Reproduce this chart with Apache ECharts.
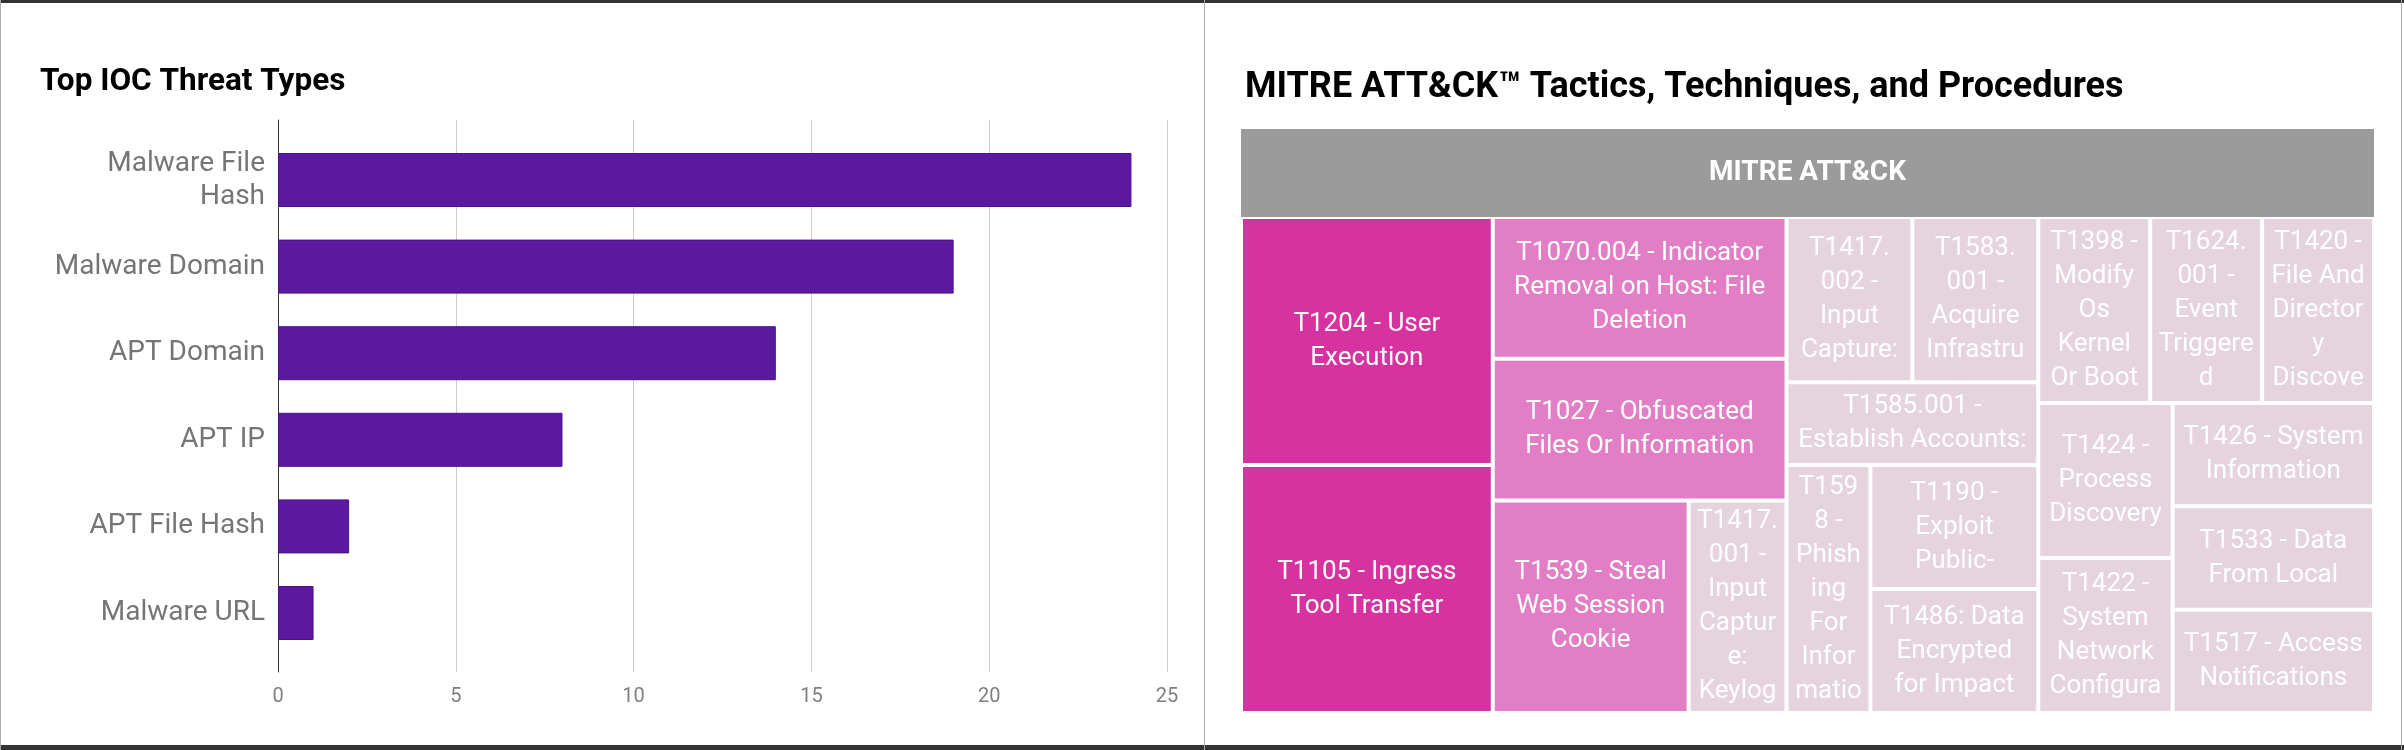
<!DOCTYPE html>
<html>
<head>
<meta charset="utf-8">
<script src="https://cdn.jsdelivr.net/npm/echarts@6/dist/echarts.min.js"></script>
<style>
  html, body { margin: 0; padding: 0; background: #fff; }
  #chart { position: absolute; left: 0; top: 0; width: 2404px; height: 750px; }
  .frame { position: absolute; z-index: 10; }
</style>
</head>
<body>
<div id="chart"></div>
<div class="frame" style="left:0;top:0;width:2404px;height:3px;background:#333;"></div>
<div class="frame" style="left:0;top:745px;width:2404px;height:5px;background:#333;"></div>
<div class="frame" style="left:0;top:0;width:1px;height:750px;background:#aaa;"></div>
<div class="frame" style="left:1204px;top:0;width:1px;height:750px;background:#aaa;"></div>
<div class="frame" style="left:2401px;top:0;width:1px;height:750px;background:#aaa;"></div>
<script>
// ---------------- data ----------------
const barTitle = 'Top IOC Threat Types';
const barCategories = ['Malware File Hash', 'Malware Domain', 'APT Domain', 'APT IP', 'APT File Hash', 'Malware URL'];
const barValues = [24, 19, 14, 8, 2, 1];
const barAxisMin = 0;
const barAxisMax = 25;
const barAxisStep = 5;

const treemapTitle = 'MITRE ATT&CK\u2122 Tactics, Techniques, and Procedures';
const treemapRootName = 'MITRE ATT&CK';
const ttpNames = [
  'T1204 - User Execution',
  'T1105 - Ingress Tool Transfer',
  'T1070.004 - Indicator Removal on Host: File Deletion',
  'T1027 - Obfuscated Files Or Information',
  'T1539 - Steal Web Session Cookie',
  'T1417.001 - Input Capture: Keylogging',
  'T1417.002 - Input Capture: GUI Input Capture',
  'T1583.001 - Acquire Infrastructure: Domains',
  'T1585.001 - Establish Accounts: Social Media Accounts',
  'T1598 - Phishing For Information',
  'T1190 - Exploit Public-Facing Application',
  'T1486: Data Encrypted for Impact',
  'T1398 - Modify Os Kernel Or Boot Partition',
  'T1624.001 - Event Triggered Execution: Broadcast Receivers',
  'T1420 - File And Directory Discovery',
  'T1424 - Process Discovery',
  'T1422 - System Network Configuration Discovery',
  'T1426 - System Information Discovery',
  'T1533 - Data From Local System',
  'T1517 - Access Notifications'
];
const ttpCounts = [3, 3, 2, 2, 2, 1, 1, 1, 1, 1, 1, 1, 1, 1, 1, 1, 1, 1, 1, 1];
// grouping of technique indices (tree structure used by the treemap)
const ttpGroups = [
  [0, 1],
  [2, [3, [4, 5]]],
  [[6, 7], 8, [9, [10, 11]]],
  [[12, 13, 14], [[15, 16], [17, 18, 19]]]
];

// ---------------- styles ----------------
const countColors = { 1: '#e5d4de', 2: '#e27ec5', 3: '#d632a0' };
const FONT = 'Roboto';
const CAT_FONT_SIZE = 28;
const CAT_LABEL_MAX = 215;
const LEAF_FONT_SIZE = 26;
const LEAF_PAD = 6;
const LEAF_BORDER = 2;

// ---------------- text wrapping helpers ----------------
const measureCtx = document.createElement('canvas').getContext('2d');
function textW(s) { return measureCtx.measureText(s).width; }

function wrapWords(text, font, maxWidth) {
  measureCtx.font = font;
  const words = text.split(' ');
  const lines = [];
  let line = '';
  for (const w of words) {
    const test = line ? line + ' ' + w : w;
    if (line && textW(test) > maxWidth) { lines.push(line); line = w; }
    else { line = test; }
  }
  if (line) lines.push(line);
  return lines.join('\n');
}

function splitLongWord(word, maxW) {
  const parts = word.split(/(?<=[.\-])/);
  const out = [];
  for (const p of parts) {
    if (textW(p) <= maxW) { out.push(p); continue; }
    let cur = '';
    for (const ch of p) {
      if (cur && textW(cur + ch) > maxW) { out.push(cur); cur = ch; }
      else { cur += ch; }
    }
    if (cur) out.push(cur);
  }
  return out;
}

function wrapCellLabel(text, font, maxW) {
  measureCtx.font = font;
  const words = text.split(' ');
  const lines = [];
  let line = '';
  for (const w of words) {
    const pieces = textW(w) > maxW ? splitLongWord(w, maxW) : [w];
    pieces.forEach(function (p, i) {
      const joiner = (i === 0 && line) ? ' ' : '';
      const test = line + joiner + p;
      if (line && textW(test) > maxW) { lines.push(line); line = p; }
      else { line = test; }
    });
  }
  if (line) lines.push(line);
  return lines.join('\n');
}

function buildNode(g) {
  if (Array.isArray(g)) {
    return {
      name: '',
      children: g.map(buildNode),
      itemStyle: { borderWidth: 0, gapWidth: 0, borderColor: '#fff' }
    };
  }
  return {
    name: ttpNames[g],
    value: ttpCounts[g],
    itemStyle: { color: countColors[ttpCounts[g]] }
  };
}

const chart = echarts.init(document.getElementById('chart'), null, { renderer: 'canvas' });

const option = {
  animation: false,
  backgroundColor: '#fff',
  title: [
    {
      text: barTitle, left: 40, top: 66, padding: 0,
      textStyle: { fontFamily: FONT, fontSize: 31.5, fontWeight: 'bold', color: '#000' }
    },
    {
      text: treemapTitle, left: 1245, top: 70, padding: 0,
      textStyle: { fontFamily: FONT, fontSize: 36, fontWeight: 'bold', color: '#000' }
    }
  ],
  grid: [
    { left: 278, right: 2404 - 1167, top: 120, bottom: 750 - 672, containLabel: false, outerBoundsMode: 'none' },
    { left: 278, right: 2404 - 1167, top: 136.7, bottom: 750 - 656.3, containLabel: false, outerBoundsMode: 'none' }
  ],
  xAxis: [
    {
      gridIndex: 0, type: 'value', min: barAxisMin, max: barAxisMax, interval: barAxisStep,
      axisLine: { show: false }, axisTick: { show: false },
      splitLine: { show: true, lineStyle: { color: '#cccccc', width: 1 } },
      axisLabel: { fontFamily: FONT, fontSize: 20, color: '#808080', margin: 15 }
    },
    {
      gridIndex: 1, type: 'value', min: barAxisMin, max: barAxisMax, show: false
    }
  ],
  yAxis: [
    {
      gridIndex: 0, type: 'value', min: 0, max: 1,
      axisLine: { show: true, lineStyle: { color: '#333', width: 1 } },
      axisTick: { show: false }, axisLabel: { show: false }, splitLine: { show: false }
    },
    {
      gridIndex: 1, type: 'category', inverse: true, data: barCategories,
      axisLine: { show: false }, axisTick: { show: false }, splitLine: { show: false },
      axisLabel: {
        interval: 0, fontFamily: FONT, fontSize: CAT_FONT_SIZE, color: '#757575', margin: 13,
        lineHeight: 33, align: 'right',
        formatter: function (v) {
          return wrapWords(v, CAT_FONT_SIZE + 'px ' + FONT, CAT_LABEL_MAX);
        }
      }
    }
  ],
  series: [
    {
      type: 'bar', xAxisIndex: 1, yAxisIndex: 1, data: barValues, barWidth: 54, silent: true,
      itemStyle: { color: '#5b199f', borderColor: '#4a1090', borderWidth: 1 }
    },
    {
      type: 'treemap',
      left: 1241, top: 129, width: 1133, height: 584,
      squareRatio: 1, sort: false, roam: false, nodeClick: false, silent: true,
      visibleMin: 0, drillDownIcon: '',
      breadcrumb: { show: false },
      itemStyle: { borderWidth: LEAF_BORDER, borderColor: '#fff', gapWidth: 0 },
      label: {
        show: true, position: 'inside', color: '#fff', fontFamily: FONT, fontSize: LEAF_FONT_SIZE,
        lineHeight: 34, overflow: 'break', padding: [0, LEAF_PAD]
      },
      upperLabel: { show: false },
      levels: [
        { itemStyle: { borderWidth: 0, gapWidth: 0, borderColor: '#fff' } }
      ],
      data: [
        {
          name: treemapRootName,
          children: ttpGroups.map(buildNode),
          itemStyle: { borderWidth: 0, gapWidth: 0, borderColor: '#9b9b9b' },
          upperLabel: {
            show: true, height: 88, position: 'inside', color: '#fff',
            fontFamily: FONT, fontSize: 28, fontWeight: 'bold'
          }
        }
      ]
    }
  ]
};

chart.setOption(option);

// second pass: wrap leaf labels to the laid-out cell widths
try {
  const tmSeries = chart.getModel().getSeriesByIndex(1);
  const tree = tmSeries.getData().tree;
  const cellWidths = {};
  tree.root.eachNode(function (node) {
    if (!node.children || node.children.length === 0) {
      const lay = node.getLayout();
      if (lay && lay.width) {
        const bw = lay.borderWidth != null ? lay.borderWidth : LEAF_BORDER;
        cellWidths[node.name] = lay.width - 2 * bw - 2 * LEAF_PAD;
      }
    }
  });
  if (Object.keys(cellWidths).length) {
    const leafFont = LEAF_FONT_SIZE + 'px ' + FONT;
    chart.setOption({
      series: [{}, {
        label: {
          overflow: 'none',
          formatter: function (p) {
            const w = cellWidths[p.name];
            return w ? wrapCellLabel(p.name, leafFont, w) : p.name;
          }
        }
      }]
    });
  }
} catch (e) {
  console.log('label wrap pass skipped: ' + e);
}
</script>
</body>
</html>
